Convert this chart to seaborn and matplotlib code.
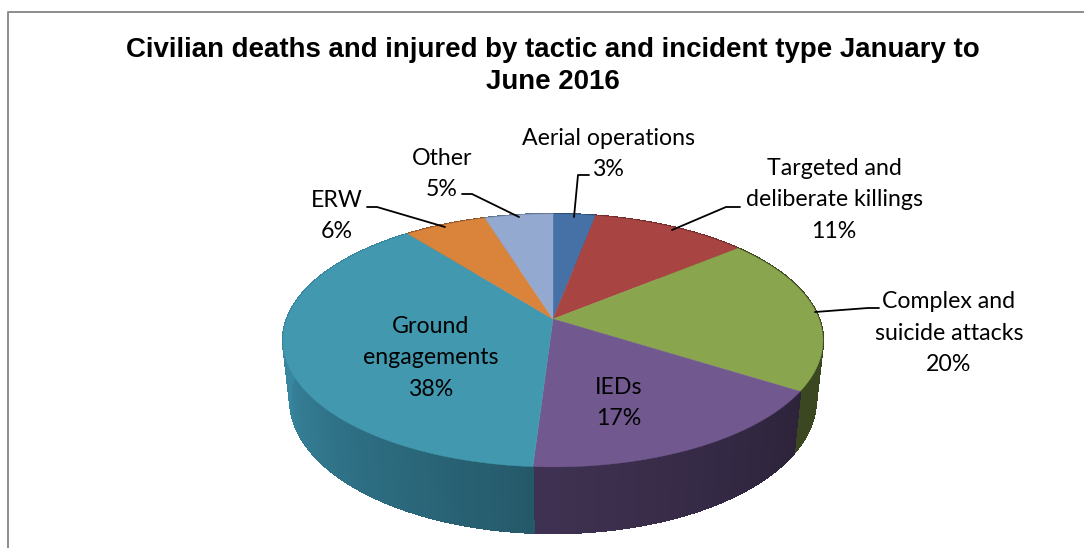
"""Civilian casualties by tactic, drawn as a perspective pie with seaborn styling."""
import numpy as np
import matplotlib
matplotlib.use("Agg")
import matplotlib.pyplot as plt
from matplotlib.collections import PolyCollection
import seaborn as sns

categories = ["Aerial operations", "Targeted and\ndeliberate killings",
              "Complex and\nsuicide attacks", "IEDs", "Ground\nengagements", "ERW", "Other"]
shares = [3, 11, 20, 17, 38.4, 5.8, 4.8]
share_labels = ["3%", "11%", "20%", "17%", "38%", "6%", "5%"]
top_colors = ["#4571a6", "#a84442", "#89a54e", "#71588f", "#4198af", "#d9833b", "#93a9cf"]
side_colors = ["#2f4d72", "#702d2c", "#3a4720", "#2b2238", "#25596a", "#90572a", "#64738d"]
title = "Civilian deaths and injured by tactic and incident type January to\nJune 2016"

sns.set_theme(style="white")
plt.rcParams["font.family"] = ["Lato", "DejaVu Sans"]

CX, CY = 553, 319
A, B, K = 122.8, 266, 0.17
DEPTH = 58


def project(theta, f=0.0):
    # theta is clockwise from the top of the pie, f=1 is the bottom rim
    x, y = np.sin(theta), np.cos(theta)
    w = 1 + K * y
    return CX + (1 - 0.026 * f) * B * x / w, CY - (1 + 0.055 * f) * A * y / w + DEPTH * f


def wall_shade(name, t, t_start):
    # wall gets lighter going round to the left
    if name.startswith("Ground"):
        return 1.0 + 0.52 * np.clip((t - t_start) / 1.35, 0, 1)
    if name == "IEDs":
        return 1.0 + 0.45 * np.clip((t - np.pi * 0.65) / (np.pi * 0.35), 0, 1)
    return 1.0


fig = plt.figure(figsize=(10.84, 5.48), dpi=100)
ax = fig.add_axes([0, 0, 1, 1])
ax.set_xlim(0, 1084)
ax.set_ylim(548, 0)
ax.axis("off")

# chart frame, cropped on the right and at the bottom like the original
ax.plot([8, 8, 1084], [548, 12, 12], color="#8c8c8c", lw=1.4)

edges = 2 * np.pi * np.cumsum([0] + shares) / sum(shares)

for i in range(len(shares)):
    th = np.linspace(edges[i], edges[i + 1], 90)
    quads, cols = [], []
    base = np.array(matplotlib.colors.to_rgb(side_colors[i]))
    for t0, t1 in zip(th[:-1], th[1:]):
        x0, y0 = project(t0)
        x1, y1 = project(t1)
        x2, y2 = project(t1, 1)
        x3, y3 = project(t0, 1)
        quads.append([(x0, y0), (x1, y1), (x2, y2), (x3, y3)])
        cols.append(np.clip(base * wall_shade(categories[i], t0, edges[i]), 0, 1))
    ax.add_collection(PolyCollection(quads, facecolors=cols, edgecolors=cols, linewidths=1.0,
                                     antialiased=False, zorder=2))

for i in range(len(shares)):
    th = np.linspace(edges[i], edges[i + 1], 120)
    xs, ys = project(th)
    ax.fill(np.r_[CX, xs], np.r_[CY, ys], color=top_colors[i], lw=0.3, zorder=3)

# label centres and leader lines, in pixel space
label_pos = [(608, 154), (834, 200), (949, 333), (619, 403), (431, 358), (337, 216), (442, 174)]
leaders = [
    [(589, 175), (578, 175), (574, 217)],
    [(740, 207), (726, 207), (672, 230)],
    [(879, 308), (868, 308), (815, 312)],
    None,
    None,
    [(367, 207), (377, 207), (445, 227)],
    [(462, 194), (472, 194), (519, 217)],
]
for name, pct, pos, lead in zip(categories, share_labels, label_pos, leaders):
    ax.text(pos[0], pos[1], f"{name}\n{pct}", ha="center", va="center", fontsize=16.7,
            color="black", linespacing=1.6, zorder=5)
    if lead is not None:
        ax.plot(*zip(*lead), color="black", lw=1.3, zorder=4)

ax.text(553, 66, title, ha="center", va="center", fontsize=19.9, fontweight="bold",
        family=["Liberation Sans", "DejaVu Sans"], color="black", linespacing=1.32)

fig.savefig("out.png", dpi=100)
